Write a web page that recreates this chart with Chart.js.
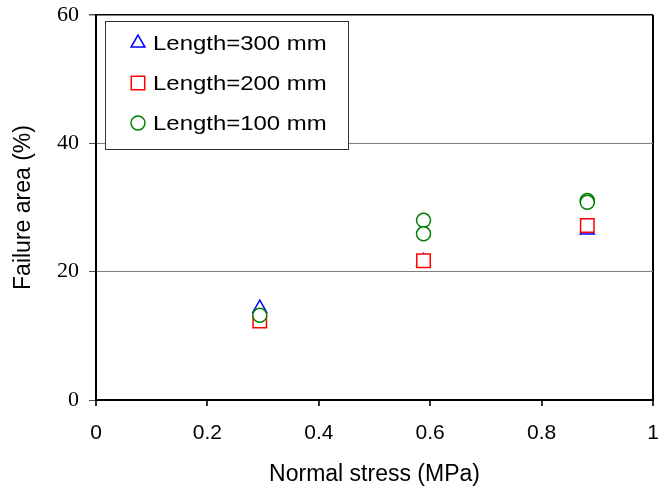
<!DOCTYPE html>
<html>
<head>
<meta charset="utf-8">
<script src="https://cdn.jsdelivr.net/npm/chart.js@4/dist/chart.umd.min.js"></script>
<style>
  html, body { margin: 0; padding: 0; background: #fff; }
  #wrap { width: 664px; height: 488px; }
</style>
</head>
<body>
<div id="wrap"><canvas id="chart"></canvas></div>
<script>
// ── DATOS ──────────────────────────────────────
const SERIES_LABELS = ['Length=300 mm', 'Length=200 mm', 'Length=100 mm'];

const stress300 = [0.294, 0.588, 0.882];
const area300   = [14.3, 21.6, 26.5];

const stress200 = [0.294, 0.588, 0.882];
const area200   = [12.3, 21.7, 27.2];

const stress100 = [0.294, 0.588, 0.588, 0.882, 0.882];
const area100   = [13.2, 28.0, 25.9, 31.1, 30.8];

const X_TICKS = [0, 0.2, 0.4, 0.6, 0.8, 1];
const Y_TICKS = [0, 20, 40, 60];

const toPoints = (xs, ys) => xs.map((x, i) => ({ x: x, y: ys[i] }));

// ── LEYENDA CON RECUADRO ───────────────────────
// El texto del original se ve algo ensanchado, por eso el scale(1.14, 1)
const boxLegend = {
  id: 'boxLegend',
  afterDatasetsDraw(chart) {
    const ctx = chart.ctx;
    ctx.save();
    ctx.fillStyle = '#fff';
    ctx.fillRect(105.5, 21.5, 243, 128);
    ctx.strokeStyle = '#333';
    ctx.lineWidth = 1;
    ctx.strokeRect(105.5, 21.5, 243, 128);

    chart.data.datasets.forEach((ds, i) => {
      const y = 43 + i * 40;
      ctx.save();
      ctx.fillStyle = '#fff';
      ctx.strokeStyle = ds.borderColor;
      ctx.lineWidth = 1.5;
      Chart.helpers.drawPoint(ctx, {
        pointStyle: ds.pointStyle,
        radius: ds.pointStyle === 'rect' ? 9.5 : (ds.pointStyle === 'triangle' ? 8 : 7),
        borderWidth: 1.5
      }, 138, y);
      ctx.translate(153, y + 1);
      ctx.scale(1.14, 1);
      ctx.fillStyle = '#000';
      ctx.font = '21px "Liberation Sans", Arial, sans-serif';
      ctx.textBaseline = 'middle';
      ctx.textAlign = 'left';
      ctx.fillText(ds.label, 0, 0);
      ctx.restore();
    });
    ctx.restore();
  }
};

// ── GRÁFICO ────────────────────────────────────
const tickFont  = { family: '"Liberation Sans", Arial, sans-serif', size: 21 };
const titleFont = { family: '"Liberation Sans", Arial, sans-serif', size: 23 };
const serifFont = { family: '"Liberation Serif", "Times New Roman", serif', size: 22 };

new Chart(document.getElementById('chart'), {
  type: 'scatter',
  data: {
    datasets: [
      {
        label: SERIES_LABELS[0],
        data: toPoints(stress300, area300),
        pointStyle: 'triangle',
        borderColor: '#0000ff',
        backgroundColor: '#fff',
        pointRadius: 8,
        pointBorderWidth: 1.5,
        order: 3
      },
      {
        label: SERIES_LABELS[1],
        data: toPoints(stress200, area200),
        pointStyle: 'rect',
        borderColor: '#ff0000',
        backgroundColor: '#fff',
        pointRadius: 9.5,
        pointBorderWidth: 1.5,
        order: 2
      },
      {
        label: SERIES_LABELS[2],
        data: toPoints(stress100, area100),
        pointStyle: 'circle',
        borderColor: '#008000',
        backgroundColor: '#fff',
        pointRadius: 7,
        pointBorderWidth: 1.5,
        order: 1
      }
    ]
  },
  options: {
    responsive: true,
    maintainAspectRatio: false,
    animation: false,
    devicePixelRatio: 1,
    layout: { padding: { top: 15, right: 10, left: 0, bottom: 0 } },
    plugins: {
      legend: { display: false },
      tooltip: { enabled: false }
    },
    scales: {
      x: {
        type: 'linear',
        min: 0,
        max: 1,
        afterBuildTicks: s => { s.ticks = X_TICKS.map(v => ({ value: v })); },
        afterFit: s => { s.height = 88; s.paddingLeft = 0; s.paddingRight = 0; },
        ticks: {
          color: '#000',
          font: tickFont,
          padding: 15,
          maxRotation: 0,
          callback: v => String(v)
        },
        grid: {
          color: c => (c.tick && c.tick.value === 1) ? '#000' : 'rgba(0,0,0,0)',
          lineWidth: 2,
          tickColor: '#333',
          tickLength: 6
        },
        border: { color: '#000', width: 2 },
        title: {
          display: true,
          text: 'Normal stress (MPa)',
          color: '#000',
          font: titleFont,
          padding: { top: 4, bottom: 0 }
        }
      },
      y: {
        type: 'linear',
        min: 0,
        max: 60,
        afterBuildTicks: s => { s.ticks = Y_TICKS.map(v => ({ value: v })); },
        afterFit: s => { s.width = 96; s.paddingTop = 0; s.paddingBottom = 0; },
        ticks: {
          color: '#000',
          font: serifFont,
          padding: 10,
          callback: v => String(v)
        },
        grid: {
          color: c => {
            const v = c.tick ? c.tick.value : null;
            if (v === 60) return '#000';
            if (v === 20 || v === 40) return '#7f7f7f';
            return 'rgba(0,0,0,0)';
          },
          lineWidth: c => (c.tick && c.tick.value === 60) ? 1.5 : 1,
          tickColor: '#555',
          tickLength: 7
        },
        border: { color: '#000', width: 2 },
        title: {
          display: true,
          text: 'Failure area (%)',
          color: '#000',
          font: titleFont,
          padding: { top: 10, bottom: 0 }
        }
      }
    }
  },
  plugins: [boxLegend]
});
</script>
</body>
</html>
